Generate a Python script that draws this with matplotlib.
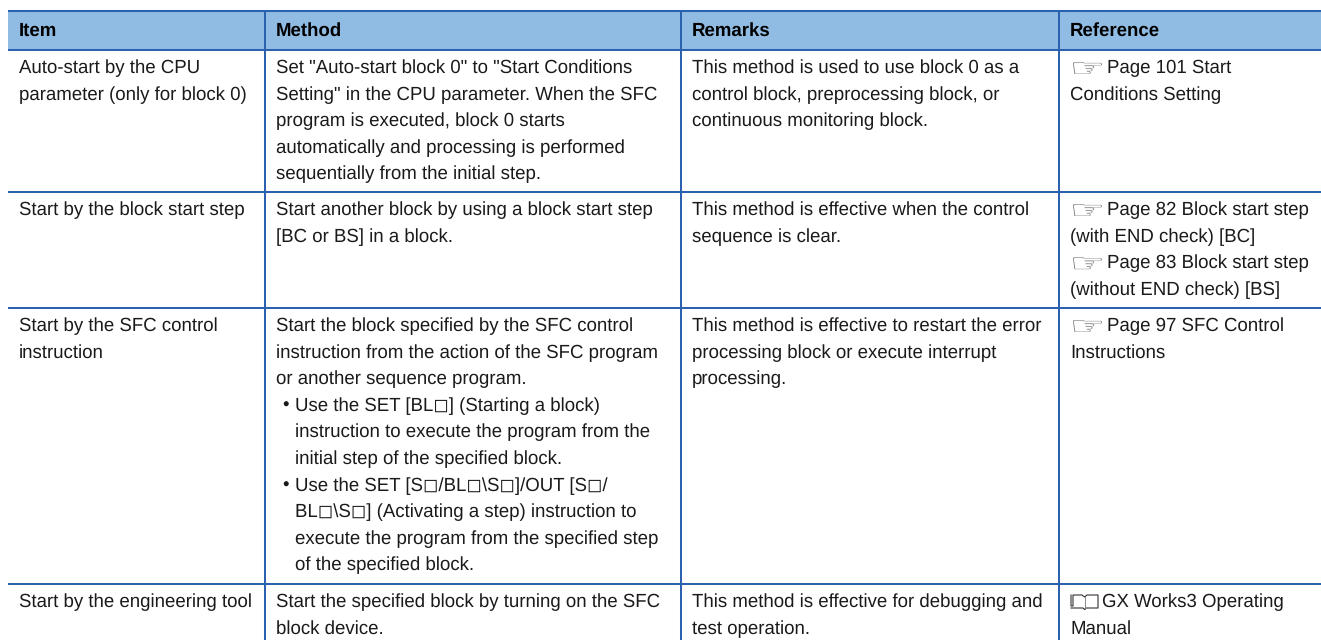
import matplotlib
matplotlib.use("Agg")
import matplotlib.pyplot as plt
from matplotlib.patches import Rectangle, PathPatch
from matplotlib.textpath import TextPath
from matplotlib.font_manager import FontProperties
from matplotlib.transforms import Affine2D

plt.rcParams["text.hinting"] = "no_hinting"
plt.rcParams["text.hinting_factor"] = 8

FONT = ["Liberation Sans", "DejaVu Sans"]
BLUE = "#2b62b0"
HEAD = "#90bce3"
TXT = "#1a1a1a"

headers = ["Item", "Method", "Remarks", "Reference"]
col_x = [8, 265, 681, 1059, 1321]
row_y = [11, 50, 192, 308, 584, 640]
col1 = [["Auto-start by the CPU", "parameter (only for block 0)"],
        ["Start by the block start step"],
        ["Start by the SFC control", "instruction"],
        ["Start by the engineering tool"]]
col2 = [['Set "Auto-start block 0" to "Start Conditions', 'Setting" in the CPU parameter. When the SFC',
         'program is executed, block 0 starts', 'automatically and processing is performed',
         'sequentially from the initial step.'],
        ['Start another block by using a block start step', '[BC or BS] in a block.'],
        ['Start the block specified by the SFC control', 'instruction from the action of the SFC program',
         'or another sequence program.',
         '\t•\tUse the SET [BL◻] (Starting a block)', '\t\tinstruction to execute the program from the',
         '\t\tinitial step of the specified block.',
         '\t•\tUse the SET [S◻/BL◻\\S◻]/OUT [S◻/', '\t\tBL◻\\S◻] (Activating a step) instruction to',
         '\t\texecute the program from the specified step', '\t\tof the specified block.'],
        ['Start the specified block by turning on the SFC', 'block device.']]
col3 = [['This method is used to use block 0 as a', 'control block, preprocessing block, or',
         'continuous monitoring block.'],
        ['This method is effective when the control', 'sequence is clear.'],
        ['This method is effective to restart the error', 'processing block or execute interrupt',
         'processing.'],
        ['This method is effective for debugging and', 'test operation.']]
col4 = [['☞ Page 101 Start', 'Conditions Setting'],
        ['☞ Page 82 Block start step', '(with END check) [BC]', '☞ Page 83 Block start step',
         '(without END check) [BS]'],
        ['☞ Page 97 SFC Control', 'Instructions'],
        ['📖GX Works3 Operating', 'Manual']]
columns = [col1, col2, col3, col4]

W, H = 1321, 640
fig = plt.figure(figsize=(W / 100, H / 100), dpi=100)
ax = fig.add_axes([0, 0, 1, 1])
ax.set_xlim(0, W)
ax.set_ylim(H, 0)
ax.axis("off")

ax.add_patch(Rectangle((col_x[0], row_y[0]), col_x[-1] - col_x[0], row_y[1] - row_y[0], fc=HEAD, ec="none"))
for y in row_y[:-1]:
    ax.plot([col_x[0], W], [y, y], color=BLUE, lw=1.45, solid_capstyle="butt")
for x in col_x[1:-1]:
    ax.plot([x, x], [row_y[0], H], color=BLUE, lw=1.45, solid_capstyle="butt")

FS = 13.42
PAD = 11
PITCH = 26.6
BASE = 23
for j, head in enumerate(headers):
    ax.text(col_x[j] + PAD, 36, head, fontsize=FS, fontweight="bold", family=FONT, color="#000000", va="baseline")


def hand(x, y):
    tp = TextPath((0, 0), "☞", size=1, prop=FontProperties(family="DejaVu Sans"))
    b = tp.get_extents()
    tr = Affine2D().translate(-b.x0, -b.y0).scale(29 / b.width, -12 / b.height).translate(x + 3, y + 1)
    ax.add_patch(PathPatch(tr.transform_path(tp), fc="#777777", ec="none", transform=ax.transData))


def book(x, y):
    ax.plot([x + 1, x + 13, x + 14.5, x + 16, x + 28, x + 28, x + 17, x + 14.5, x + 12, x + 3, x + 3, x + 1, x + 1],
            [y + 1, y + 1, y + 2.5, y + 1, y + 1, y - 12, y - 12, y - 10, y - 12, y - 12, y - 1, y - 1, y - 12],
            color="#333333", lw=0.8)
    ax.plot([x + 14.5, x + 14.5], [y - 10, y + 2], color="#777777", lw=0.6)


for j, col in enumerate(columns):
    for i, cell in enumerate(col):
        for k, line in enumerate(cell):
            y = row_y[i + 1] + BASE + k * PITCH
            x = col_x[j] + PAD
            if line.startswith("\t•\t"):
                ax.text(x + 6, y, "•", fontsize=FS, family=FONT, color=TXT, va="baseline")
                x += 19
                line = line[3:]
            elif line.startswith("\t\t"):
                x += 19
                line = line[2:]
            if line.startswith("☞"):
                hand(x, y)
                x += 37
                line = line[2:]
            elif line.startswith("📖"):
                book(x, y)
                x += 32
                line = line[1:]
            ax.text(x, y, line, fontsize=FS, family=FONT, color=TXT, va="baseline")

fig.savefig("out.png", dpi=100, facecolor="white")
